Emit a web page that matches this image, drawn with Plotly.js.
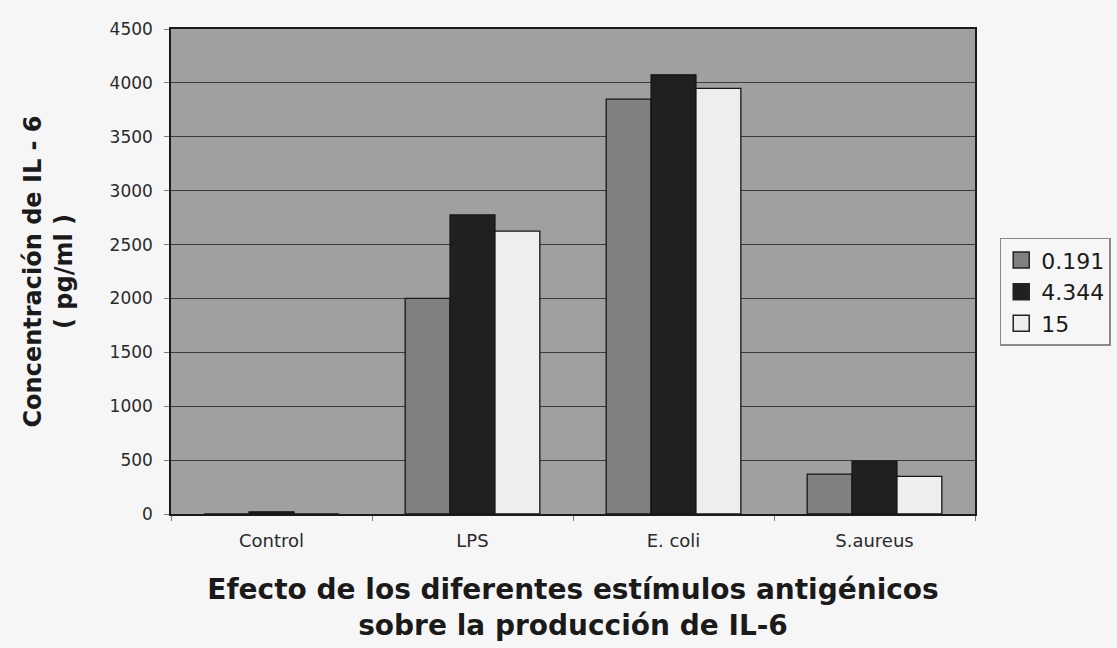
<!DOCTYPE html>
<html>
<head>
<meta charset="utf-8">
<script src="https://cdn.plot.ly/plotly-3.0.1.min.js"></script>
<style>html,body{margin:0;padding:0;background:#f6f6f6;}#chart{width:1117px;height:648px;}</style>
</head>
<body>
<div id="chart"></div>
<script>
const categories = ["Control", "LPS", "E. coli", "S.aureus"];
const seriesNames = ["0.191", "4.344", "15"];
const values_0191 = [0, 2000, 3850, 370];
const values_4344 = [20, 2775, 4075, 490];
const values_15 = [0, 2625, 3950, 350];
const yTicks = [0, 500, 1000, 1500, 2000, 2500, 3000, 3500, 4000, 4500];

const colors = ["#808080", "#202020", "#eeeeee"];
const allValues = [values_0191, values_4344, values_15];

const barTraces = allValues.map((vals, i) => ({
  type: "bar",
  name: seriesNames[i],
  x: categories,
  y: vals,
  showlegend: false,
  marker: {color: colors[i], line: {color: "#151515", width: 1.3}},
  hoverinfo: "x+y+name"
}));

// legend-only entries with larger square symbols
const legendTraces = seriesNames.map((n, i) => ({
  type: "scatter",
  mode: "markers",
  name: n,
  x: [null],
  y: [null],
  marker: {symbol: "square", size: 16, color: colors[i], line: {color: "#222", width: 1.5}},
  hoverinfo: "skip"
}));

const font = "'DejaVu Sans', Arial, sans-serif";

const layout = {
  width: 1117, height: 648,
  margin: {l: 171, r: 142, t: 29, b: 134},
  paper_bgcolor: "#f6f6f6",
  plot_bgcolor: "#a0a0a0",
  font: {family: font, color: "#222"},
  barmode: "group",
  bargap: 0.33,
  bargroupgap: 0,
  showlegend: true,
  legend: {
    xref: "container", yref: "container",
    x: 0.895, xanchor: "left", y: 0.633, yanchor: "top",
    bgcolor: "#f6f6f6", bordercolor: "#8a8a8a", borderwidth: 1.5,
    font: {family: font, size: 22, color: "#1a1a1a"},
    itemwidth: 30, tracegroupgap: 0
  },
  xaxis: {
    type: "category",
    tickfont: {family: font, size: 18, color: "#2a2a2a"},
    ticks: "outside", ticklen: 5, tickcolor: "#777", tickson: "boundaries",
    ticklabelstandoff: 10,
    showline: true, linecolor: "#1a1a1a", linewidth: 1.5, mirror: true,
    showgrid: false,
    title: {
      text: "<b>Efecto de los diferentes estímulos antigénicos<br>sobre la producción de IL-6</b>",
      font: {family: font, size: 28, color: "#1a1a1a"}, standoff: 29
    }
  },
  yaxis: {
    range: [0, 4500],
    tickvals: yTicks,
    tickfont: {family: font, size: 17, color: "#2a2a2a"},
    ticks: "outside", ticklen: 5, tickcolor: "#777",
    ticklabelstandoff: 8,
    showline: true, linecolor: "#1a1a1a", linewidth: 1.5, mirror: true,
    showgrid: true, gridcolor: "#3c3c3c", gridwidth: 1,
    zeroline: false,
    title: {
      text: "<b>Concentración de IL - 6<br>( pg/ml )</b>",
      font: {family: font, size: 24, color: "#1a1a1a"}, standoff: 30
    }
  }
};

Plotly.newPlot("chart", barTraces.concat(legendTraces), layout, {displayModeBar: false});
</script>
</body>
</html>
